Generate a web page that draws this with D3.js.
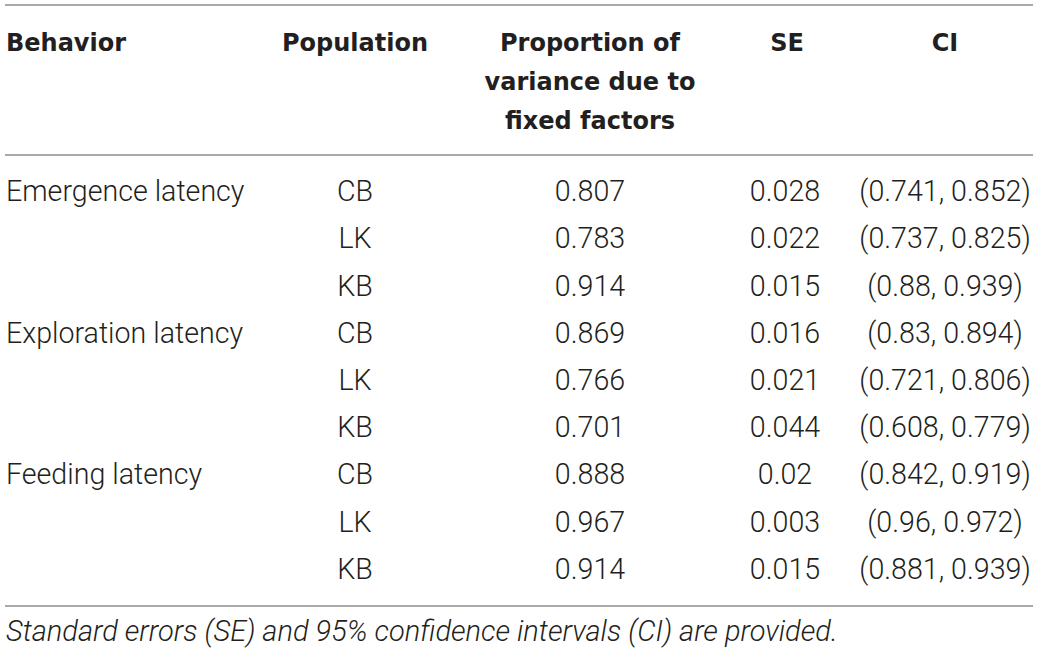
<!DOCTYPE html>
<html><head><meta charset="utf-8">
<script src="https://cdn.jsdelivr.net/npm/d3@7"></script>
<style>
html,body{margin:0;padding:0;background:#fff;}
svg text{fill:#231f20;}
.hd{font-family:"DejaVu Sans",sans-serif;font-weight:700;font-size:24px;}
.bd{font-family:Roboto,"Liberation Sans",sans-serif;font-weight:300;font-size:28.6px;}
.ft{font-family:Roboto,"Liberation Sans",sans-serif;font-weight:300;font-style:italic;font-size:29px;}
</style></head>
<body><svg id="c" width="1039" height="654"></svg>
<script>
const behaviors = ["Emergence latency", "Exploration latency", "Feeding latency"];
const populations = ["CB", "LK", "KB"];
const proportion = [0.807, 0.783, 0.914, 0.869, 0.766, 0.701, 0.888, 0.967, 0.914];
const se = [0.028, 0.022, 0.015, 0.016, 0.021, 0.044, 0.02, 0.003, 0.015];
const ciLow = [0.741, 0.737, 0.88, 0.83, 0.721, 0.608, 0.842, 0.96, 0.881];
const ciHigh = [0.852, 0.825, 0.939, 0.894, 0.806, 0.779, 0.919, 0.972, 0.939];
const headers = [["Behavior"], ["Population"], ["Proportion of", "variance due to", "fixed factors"], ["SE"], ["CI"]];
const footnote = "Standard errors (SE) and 95% confidence intervals (CI) are provided.";

const svg = d3.select("#c");
const cols = ["behavior", "population", "proportion", "se", "ci"];
const colX = d3.scaleOrdinal().domain(cols).range([6, 355, 590, 785, 945]);
const headX = d3.scaleOrdinal().domain(cols).range([6, 355, 590, 787, 945]);
const anchor = d3.scaleOrdinal().domain(cols).range(["start", "middle", "middle", "middle", "middle"]);

const rows = [];
behaviors.forEach((b, bi) => populations.forEach((p, pi) => {
  const i = bi * populations.length + pi;
  rows.push({i, behavior: pi === 0 ? b : "", population: p,
    proportion: String(proportion[i]), se: String(se[i]),
    ci: "(" + ciLow[i] + ", " + ciHigh[i] + ")"});
}));
const y = d3.scaleBand().domain(d3.range(rows.length)).range([167.4, 592.6]);

// rules
const rules = [5, 155, 606];
svg.selectAll("line.rule").data(rules).join("line").attr("class", "rule")
  .attr("x1", 5).attr("x2", 1033).attr("y1", d => d).attr("y2", d => d)
  .attr("stroke", "#8c8c8c").attr("stroke-width", 1.6);

// header
const hl = d3.scaleLinear().domain([0, 1]).range([51, 90]);
cols.forEach((c, ci) => {
  const t = svg.append("text").attr("class", "hd").attr("x", headX(c)).attr("text-anchor", anchor(c));
  headers[ci].forEach((line, li) => {
    t.append("tspan").attr("x", headX(c)).attr("y", hl(li)).text(line);
  });
});

// body
const g = svg.append("g");
cols.forEach(c => {
  g.selectAll("text." + c).data(rows).join("text").attr("class", "bd " + c)
    .attr("x", colX(c)).attr("y", d => y(d.i) + y.bandwidth() / 2 + 10)
    .attr("text-anchor", anchor(c))
    .text(d => d[c]);
});

svg.append("text").attr("class", "ft").attr("x", 6).attr("y", 641).text(footnote);
</script></body></html>
